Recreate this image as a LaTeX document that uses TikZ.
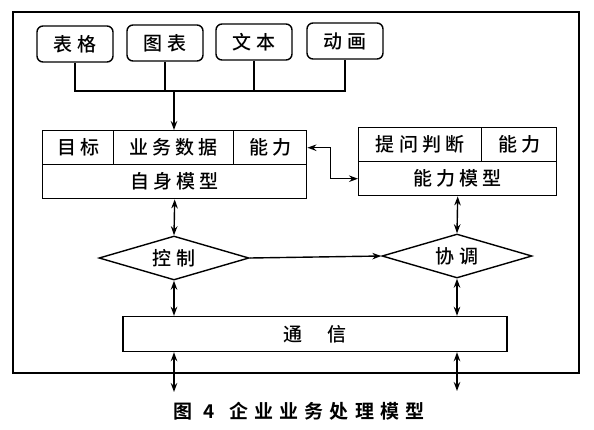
\documentclass[tikz,border=0pt]{standalone}
\usepackage{fontspec}
\newfontfamily\hei[LetterSpace=22]{Noto Sans CJK SC Medium}
\newfontfamily\heib[LetterSpace=32]{Noto Sans CJK SC Bold}
\usetikzlibrary{shapes.geometric, arrows.meta}

\tikzset{
  srcbox/.style={draw, rounded corners=6pt, minimum width=76pt, minimum height=36pt, inner sep=0pt},
  cell/.style={draw, minimum height=34pt, inner sep=0pt, anchor=north west},
  decision/.style={draw, diamond, aspect=3.4, minimum width=150pt, minimum height=44pt, inner sep=0pt},
  dbl/.style={{Stealth[length=9pt,width=6.5pt]}-{Stealth[length=9pt,width=6.5pt]}},
  sgl/.style={-{Stealth[length=9pt,width=6.5pt]}}
}

\begin{document}
\begin{tikzpicture}[x=1pt, y=-1pt, line width=1.4pt, font=\hei\fontsize{19}{22}\selectfont]
    \useasboundingbox (0,0) rectangle (594,429);

    % Draw the outer frame
    \draw (13,12) rectangle (579,373);

    % Draw the source boxes
    \node[srcbox] (biaoge) at (75,44) {表格};
    \node[srcbox] (tubiao) at (165,43) {图表};
    \node[srcbox] (wenben) at (254,42) {文本};
    \node[srcbox] (donghua) at (345,41) {动画};

    % Draw the self model
    \node[cell, minimum width=71pt] (mubiao) at (42,130) {目标};
    \node[cell, minimum width=120pt] (yewu) at (113,130) {业务数据};
    \node[cell, minimum width=73pt] (nengli) at (233,130) {能力};
    \node[cell, minimum width=264pt] (self) at (42,164) {自身模型};

    % Draw the ability model
    \node[cell, minimum width=123pt] (tiwen) at (358,127) {提问判断};
    \node[cell, minimum width=75pt] (nengliB) at (481,127) {能力};
    \node[cell, minimum width=198pt] (ability) at (358,161) {能力模型};

    % Draw the decisions
    \node[decision] (kongzhi) at (174,258) {控制};
    \node[decision] (xietiao) at (457,256) {协调};

    % Draw the communication box
    \node[draw, minimum width=384pt, minimum height=35pt, inner sep=0pt] (tongxin) at (315,334) {通\hspace{1.3em}信};

    % Collect the sources
    \coordinate (join) at (174,91);
    \draw (biaoge.south) |- (join) -| (donghua.south);
    \draw (tubiao.south) -- (tubiao.south |- join);
    \draw (wenben.south) -- (wenben.south |- join);
    \draw[sgl] (join) -- (join |- yewu.north);

    % Connect the models
    \draw[dbl] (nengli.east) -- ++(23,0) |- (ability.west);
    \draw[dbl] (self.south) -- (kongzhi.north);
    \draw[dbl] (ability.south) -- (xietiao.north);
    \draw[sgl] (kongzhi.east) -- (xietiao.west);
    \draw[dbl] (kongzhi.south) -- (kongzhi.south |- tongxin.north);
    \draw[dbl] (xietiao.south) -- (xietiao.south |- tongxin.north);

    % Outputs of the communication
    \coordinate (outA) at (174,392);
    \coordinate (outB) at (457,391);
    \draw[dbl] (outA |- tongxin.south) -- (outA);
    \draw[dbl] (outB |- tongxin.south) -- (outB);

    \node[font=\heib\fontsize{19}{21}\selectfont] (caption) at (299,411) {图 4\hspace{0.8em}企业业务处理模型};
\end{tikzpicture}
\end{document}
